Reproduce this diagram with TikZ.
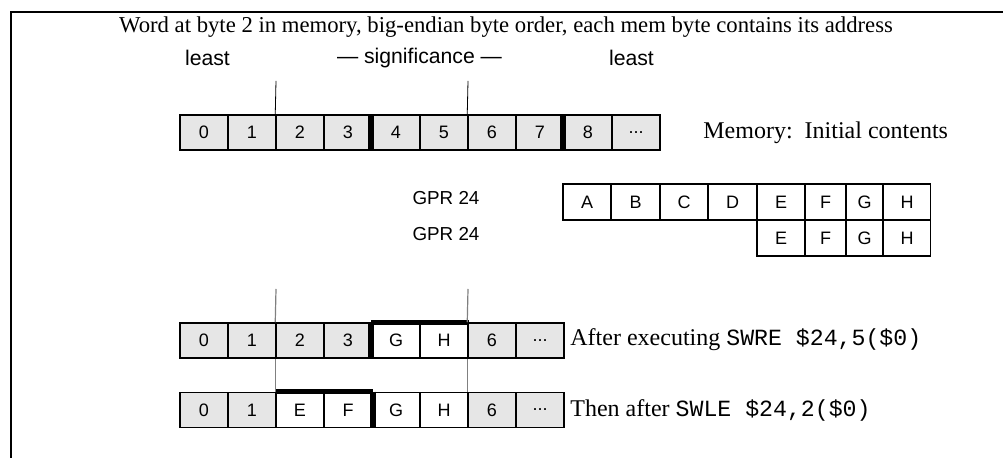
\documentclass[tikz,border=0pt]{standalone}
\usepackage{fontspec}
\setmainfont{Liberation Serif}
\setsansfont{Liberation Sans}
\setmonofont{Liberation Mono}
\usetikzlibrary{positioning}
\definecolor{CellGray}{HTML}{E6E6E6}
\definecolor{MarkGray}{HTML}{808080}
\newcommand{\moredots}{...}

\tikzset{
  bytecell/.style={draw,line width=0.75pt,fill=CellGray,inner sep=0pt,
    minimum width=24pt,minimum height=17.5pt,font=\sffamily\fontsize{9}{10}\selectfont},
  regcell/.style={bytecell,fill=white,minimum height=18pt},
  caption/.style={font=\fontsize{12}{14}\selectfont,inner sep=0pt},
  sigtext/.style={font=\sffamily\fontsize{10.6}{12}\selectfont,inner sep=0pt},
  gprtext/.style={font=\sffamily\fontsize{9.4}{11}\selectfont,inner sep=0pt},
  divider/.style={line width=2.9pt},
  topbar/.style={line width=2.3pt},
}

\begin{document}
\begin{tikzpicture}[x=0.5pt,y=-0.5pt]
    \useasboundingbox (0,0) rectangle (1003,458);
    \draw[line width=1pt] (11,458)--(11,12)--(1003,12);
    % headings
    \node[caption,font=\fontsize{11.35}{13}\selectfont] (title) at (506,27)
      {Word at byte 2 in memory, big-endian byte order, each mem byte contains its address};
    \node[sigtext] (lsbleft) at (207.5,58) {least};
    \node[sigtext] (sig) at (419.5,58) {--- significance ---};
    \node[sigtext] (lsbright) at (631.5,58) {least};
    % memory, initial contents
    \foreach \i/\lab in {0/0,1/1,2/2,3/3,4/4,5/5,6/6,7/7,8/8,9/\moredots}{
      \node[bytecell] (m\i) at ({204+48*\i},132.5) {\lab};
    }
    \draw[divider] (m4.north west)--(m4.south west);
    \draw[divider] (m8.north west)--(m8.south west);
    \coordinate (mtopa) at (276,81);
    \coordinate (mtopb) at (468,81);
    \draw (m2.north west)--(mtopa);
    \draw (m6.north west)--(mtopb);
    \node[caption,anchor=west] (memlab) at (703,133) {Memory:\ \ Initial contents};
    % register
    \foreach \n/\x/\w/\lab in {ra/587/24/A,rb/635.5/24.5/B,rc/684/24/C,rd/732.5/24.5/D,
                               re/781/24/E,rf/825.5/20.5/F,rg/864.5/18.5/G,rh/907/23.5/H}{
      \node[regcell,minimum width=\w pt] (\n) at (\x,202) {\lab};
    }
    \foreach \n/\x/\w/\lab in {se/781/24/E,sf/825.5/20.5/F,sg/864.5/18.5/G,sh/907/23.5/H}{
      \node[regcell,minimum width=\w pt] (\n) at (\x,238) {\lab};
    }
    \node[gprtext] (gpra) at (446,198) {GPR 24};
    \node[gprtext] (gprb) at (446,234) {GPR 24};
    % after SWRE
    \foreach \i/\lab/\col in {0/0/CellGray,1/1/CellGray,2/2/CellGray,3/3/CellGray,
                              4/G/white,5/H/white,6/6/CellGray,7/\moredots/CellGray}{
      \node[bytecell,fill=\col] (a\i) at ({204+48*\i},340.5) {\lab};
    }
    \draw[topbar] (a4.north west)--(a5.north east);
    \draw[divider] (a4.north west)--(a4.south west);
    \node[caption,anchor=west] (swre) at (570,340)
      {After executing {\fontsize{11.6}{14}\ttfamily SWRE \$24,5(\$0)}};
    % then after SWLE
    \foreach \i/\lab/\col in {0/0/CellGray,1/1/CellGray,2/E/white,3/F/white,
                              4/G/white,5/H/white,6/6/CellGray,7/\moredots/CellGray}{
      \node[bytecell,fill=\col] (b\i) at ({204+48*\i},410) {\lab};
    }
    \draw[topbar] (b2.north west)--(b3.north east);
    \draw[divider] (b3.north east)--(b3.south east);
    \node[caption,anchor=west] (swle) at (570,410)
      {Then after {\fontsize{11.6}{14}\ttfamily SWLE \$24,2(\$0)}};
    % word boundary marks
    \coordinate (wtopa) at (276,289);
    \coordinate (wtopb) at (468,289);
    \draw[MarkGray,line width=0.6pt] (wtopa)--(a2.north west);
    \draw[MarkGray,line width=0.6pt] (wtopb)--(a6.north west);
    \draw[MarkGray,line width=0.6pt] (a2.south west)--(b2.north west);
    \draw[MarkGray,line width=0.6pt] (a6.south west)--(b6.north west);
  \end{tikzpicture}
\end{document}
